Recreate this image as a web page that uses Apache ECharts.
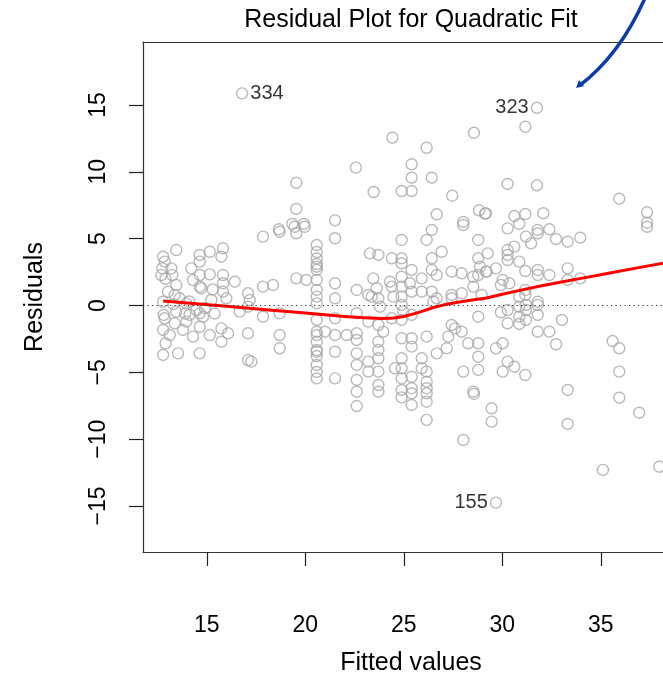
<!DOCTYPE html>
<html><head><meta charset="utf-8">
<script src="https://cdn.jsdelivr.net/npm/echarts@6/dist/echarts.min.js"></script>
<style>html,body{margin:0;padding:0;background:#fff}#c{width:663px;height:675px}</style>
</head><body><div id="c"></div>
<script>
// Fitted values (x) and residuals (y)
const fitted = [
12.78,12.86,12.74,12.69,13.20,13.25,13.45,13.45,13.03,13.37,12.78,13.62,13.96,13.45,12.81,12.86,13.37,12.78,13.12,13.79,12.91,12.78,13.54,
14.21,14.64,14.64,15.15,15.82,15.74,14.64,15.15,15.82,15.82,16.42,14.64,14.72,15.82,15.99,15.23,14.47,14.13,14.64,14.81,13.96,14.64,14.30,15.15,15.74,16.08,15.74,14.64,
13.30,14.10,14.90,15.40,13.90,12.90,15.30,14.30,
16.67,17.09,17.18,17.09,17.09,17.85,18.36,17.85,18.70,18.70,18.70,17.09,17.26,17.85,18.70,19.46,19.54,19.97,19.54,20.05,
19.54,19.54,19.34,19.93,18.66,
20.58,20.58,20.58,20.58,20.58,20.58,20.58,20.58,20.58,20.58,20.58,20.58,20.58,20.58,20.58,20.58,20.58,20.58,20.58,20.58,
21.51,21.51,21.51,21.51,21.51,21.51,21.51,21.51,21.00,
22.61,22.61,22.61,22.61,22.61,22.61,22.61,22.61,22.61,22.57,22.10,
23.28,23.71,23.45,23.62,23.20,23.37,23.71,23.79,23.20,23.71,23.96,23.71,23.71,23.71,23.20,23.20,23.71,23.71,23.71,23.47,
24.39,24.89,24.89,24.89,25.40,24.89,24.30,24.39,24.89,25.31,25.40,25.91,25.91,24.47,24.89,24.89,24.97,24.89,25.40,24.39,
24.89,25.40,25.40,24.89,24.55,24.89,24.89,25.40,25.91,25.91,26.16,26.16,26.16,26.16,25.40,24.89,24.89,25.40,25.40,26.16,26.16,26.16,
26.42,26.16,26.42,26.92,26.42,26.67,26.42,26.67,26.50,27.43,27.94,27.43,27.43,27.94,27.43,27.60,27.94,27.26,28.27,27.18,26.67,
28.78,28.78,28.78,28.78,28.02,28.53,28.02,28.78,28.78,28.87,28.53,28.78,29.21,28.53,28.95,
24.42,26.16,28.56,25.40,25.40,26.42,24.89,25.40,27.46,26.67,28.02,28.82,29.12,28.56,28.02,29.46,29.46,
31.17,30.27,31.76,35.94,37.35,37.35,37.35,29.17,30.61,31.17,32.08,30.86,30.27,31.80,32.39,31.20,31.80,32.73,33.32,33.96,
31.46,30.61,30.27,30.27,30.27,29.26,30.86,29.68,29.17,31.17,31.80,31.80,32.39,33.32,33.32,33.96,30.02,30.36,29.93,31.17,
31.17,30.86,31.80,31.80,31.20,30.86,30.27,29.93,31.20,31.80,30.86,31.20,30.86,30.27,33.03,31.80,32.39,32.73,30.02,29.68,
35.60,35.94,30.27,30.61,30.02,31.17,35.94,33.32,35.94,33.32,36.95,35.11,37.97
];
const resid = [
3.65,3.28,2.78,2.28,2.78,2.28,4.15,1.53,1.03,0.79,0.28,0.54,0.16,-0.46,-0.71,-0.96,-1.33,-1.83,-2.21,-1.83,-2.83,-3.70,-3.58,
2.78,3.78,3.28,4.02,4.28,3.65,2.28,2.33,2.28,1.66,1.78,1.41,1.29,1.03,0.54,0.41,-0.34,-0.71,-0.58,-0.84,-1.21,-1.59,-2.33,-2.21,-1.71,-2.08,-2.71,-3.58,
0.10,0.30,-0.20,-0.60,-0.60,2.00,1.20,1.90,
-0.46,0.91,0.41,-0.09,-2.08,1.41,1.53,-0.84,-0.58,-2.21,-3.20,-4.08,-4.20,5.15,5.52,5.89,5.40,5.89,2.03,1.91,
9.18,7.22,6.10,6.10,5.70,
4.52,4.00,3.53,3.10,2.90,2.66,1.91,1.16,0.66,0.16,-1.08,-1.96,-2.21,-2.71,-3.33,-3.46,-3.78,-4.45,-4.97,-5.45,
6.37,5.03,1.66,0.54,-0.96,-2.21,-3.46,-5.45,-1.96,
1.16,-0.58,-2.08,-2.58,-3.58,-4.45,-5.57,-6.45,-7.52,10.31,-2.21,
3.90,3.78,2.03,1.29,0.79,0.66,0.54,-0.09,-1.21,-1.46,-1.96,-2.71,-3.33,-3.95,-4.20,-4.95,-4.95,-5.95,-6.45,8.49,
3.53,4.90,3.53,3.16,2.66,2.15,1.78,1.41,1.41,1.66,1.03,2.03,1.03,0.66,0.66,0.04,-0.46,-1.08,-0.71,-0.96,
-2.45,-2.45,-3.08,-3.95,-4.70,-4.70,-5.45,-5.33,-4.70,-3.95,-2.33,-4.95,-5.70,-6.19,-6.19,-6.32,-6.87,-6.57,-7.44,-6.57,-7.20,-8.56,
5.65,4.90,3.53,4.02,2.66,2.28,1.03,0.54,0.28,2.53,2.41,0.79,0.54,0.91,-1.46,-1.71,-1.96,-2.33,-2.83,-3.20,-3.58,
-0.84,-2.83,-3.83,-4.82,-4.95,-6.45,6.02,4.90,3.53,2.90,2.15,2.28,2.53,1.41,0.79,
12.55,11.80,12.92,10.56,9.56,9.56,8.56,8.56,8.21,6.82,6.25,7.12,6.87,-6.62,-10.06,-7.69,-8.69,
13.37,9.09,8.99,7.99,6.97,6.19,5.89,6.90,6.69,6.84,6.90,6.10,5.77,5.65,5.70,5.15,5.40,4.97,4.77,5.07,
4.65,4.40,4.15,3.78,3.40,3.90,3.28,2.78,2.53,2.58,2.66,2.28,2.28,2.78,1.91,2.03,1.91,1.66,1.53,1.16,
0.79,0.66,0.28,0.04,0.04,-0.09,-0.34,-0.51,-0.34,-0.71,-0.84,-1.08,-1.38,-1.33,-1.08,-1.96,-1.96,-2.90,-2.83,-3.20,
-2.66,-3.20,-4.20,-4.58,-4.95,-5.20,-4.95,-6.32,-6.90,-8.86,-8.02,-12.30,-12.06
];
// Labelled observations
const labeledIds = ['334', '323', '155'];
const labeledFitted = [16.79, 31.76, 29.68];
const labeledResid = [15.87, 14.79, -14.75];
// Smooth (lowess) line
const smoothX = [12.78, 14, 16, 18, 20, 21, 22, 23, 23.9, 24.5, 25, 25.5, 26, 26.5, 27, 27.6, 28.3, 29.2, 30, 31, 32, 33, 34, 35, 36, 37, 38.16];
const smoothY = [0.34, 0.19, -0.06, -0.31, -0.57, -0.70, -0.82, -0.92, -0.97, -0.93, -0.82, -0.63, -0.40, -0.15, 0.03, 0.21, 0.38, 0.56, 0.84, 1.17, 1.47, 1.75, 2.03, 2.30, 2.58, 2.85, 3.16];
// Axis ticks
const xTicks = [15, 20, 25, 30, 35];
const yTicks = [-15, -10, -5, 0, 5, 10, 15];

const FONT = '"Liberation Sans", Arial, Helvetica, sans-serif';
const chart = echarts.init(document.getElementById('c'), null, {renderer: 'canvas'});
const pts = fitted.map((x, i) => [x, resid[i]]);
const labPts = labeledFitted.map((x, i) => ({
  value: [x, labeledResid[i]],
  label: {show: true, formatter: labeledIds[i], position: i === 0 ? 'right' : 'left', distance: 2,
          fontSize: 20, color: '#000', fontFamily: FONT}
}));
const circleStyle = {color: 'rgba(0,0,0,0)', borderColor: '#a8a8a8', borderWidth: 1.4};
const axisLineStyle = {color: '#333', width: 1.2};

chart.setOption({
  animation: false,
  backgroundColor: '#fff',
  grid: {left: 143, top: 42, right: 0, bottom: 123, show: false},
  xAxis: [{
    type: 'value', min: 11.76, max: 38.16, position: 'bottom',
    axisLine: {show: true, onZero: false, lineStyle: axisLineStyle},
    axisTick: {show: true, length: 14, customValues: xTicks, lineStyle: {color: '#222', width: 1.2}},
    axisLabel: {customValues: xTicks, fontSize: 23, color: '#000', margin: 62, fontFamily: FONT},
    splitLine: {show: false}
  }, {
    type: 'value', min: 11.76, max: 38.16, position: 'top',
    axisLine: {show: true, onZero: false, lineStyle: axisLineStyle},
    axisTick: {show: false}, axisLabel: {show: false}, splitLine: {show: false}
  }],
  yAxis: {
    type: 'value', min: -18.44, max: 19.71,
    axisLine: {show: true, onZero: false, lineStyle: axisLineStyle},
    axisTick: {show: true, length: 14, customValues: yTicks, lineStyle: {color: '#222', width: 1.2}},
    axisLabel: {customValues: yTicks, rotate: 90, fontSize: 23, color: '#000', margin: 33, fontFamily: FONT,
                formatter: v => (v < 0 ? '\u2212' + Math.abs(v) : String(v))},
    splitLine: {show: false}
  },
  series: [{
    type: 'scatter', data: pts, symbol: 'circle', symbolSize: 11, itemStyle: circleStyle, silent: true, z: 2,
    markLine: {silent: true, symbol: ['none', 'none'], label: {show: false},
      lineStyle: {color: '#333', type: [1.2, 3.3], width: 1.2}, data: [{yAxis: 0}]}
  }, {
    type: 'scatter', data: labPts, symbol: 'circle', symbolSize: 11, itemStyle: circleStyle, silent: true, z: 2
  }, {
    type: 'line', data: smoothX.map((x, i) => [x, smoothY[i]]), showSymbol: false, smooth: false,
    lineStyle: {color: '#ff0000', width: 3, join: 'round'}, silent: true, z: 3
  }],
  graphic: [
    {type: 'text', x: 411, y: 20, style: {text: 'Residual Plot for Quadratic Fit', font: '25px ' + FONT, fill: '#000', align: 'center', verticalAlign: 'middle'}},
    {type: 'text', x: 411, y: 663, style: {text: 'Fitted values', font: '25px ' + FONT, fill: '#000', align: 'center', verticalAlign: 'middle'}},
    {type: 'text', x: 35, y: 297, rotation: Math.PI / 2, style: {text: 'Residuals', font: '25px ' + FONT, fill: '#000', align: 'center', verticalAlign: 'middle'}},
    {type: 'bezierCurve', z: 100, shape: {x1: 645, y1: -2, cpx1: 620, cpy1: 55, x2: 579, y2: 86}, style: {stroke: '#0a3ea6', lineWidth: 3.5, fill: null}},
    {type: 'polygon', z: 100, shape: {points: [[576, 88], [584, 86], [579, 80]]}, style: {fill: '#0a3ea6'}}
  ]
});
</script></body></html>
